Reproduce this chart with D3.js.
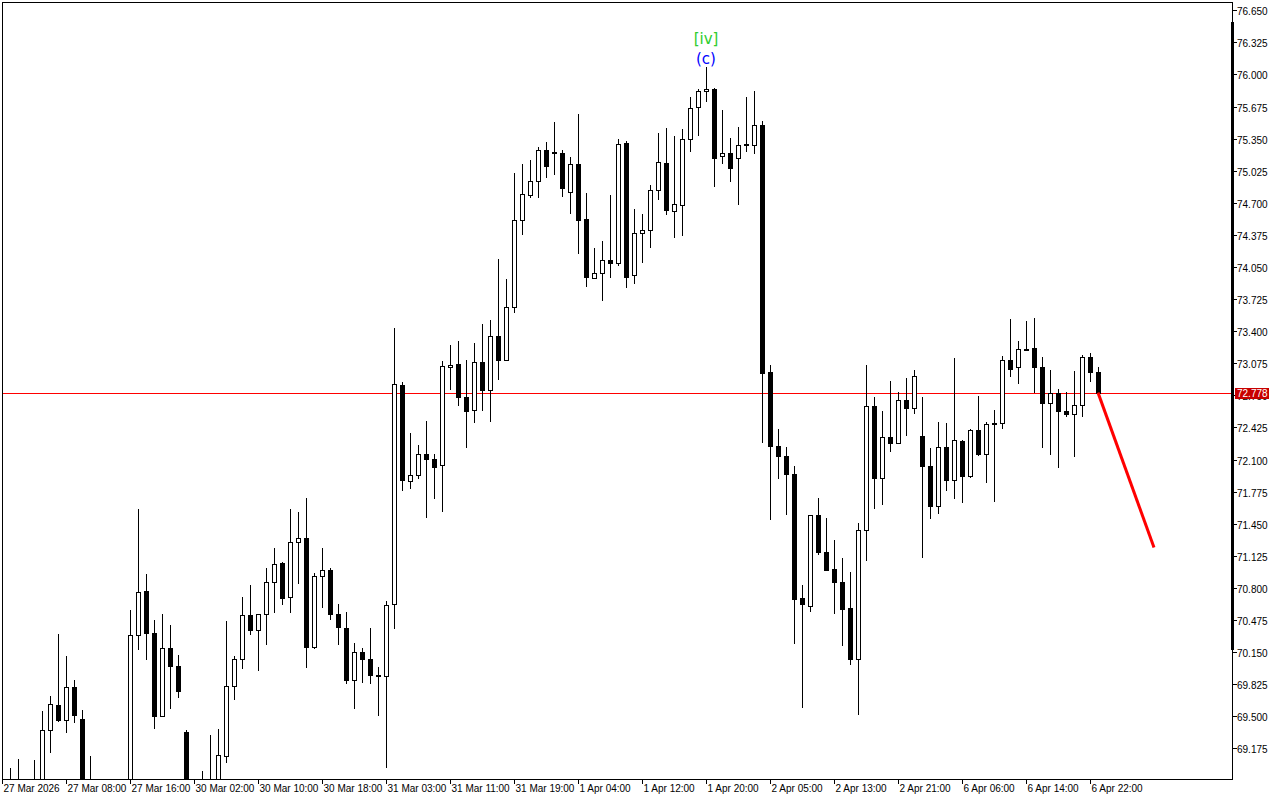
<!DOCTYPE html>
<html><head><meta charset="utf-8">
<script src="https://cdnjs.cloudflare.com/ajax/libs/d3/7.8.5/d3.min.js"></script>
<style>html,body{margin:0;padding:0;background:#fff;} svg{display:block;}</style>
</head><body><svg id="c" width="1280" height="800"></svg>
<script>
// Hourly candles, index 0 = 27 Mar 2026 00:00
const openP = [68.80,68.80,68.75,68.80,68.70,68.80,69.362,69.612,69.460,69.795,
69.474,68.75,68.80,68.60,68.55,68.75,68.70,70.321,70.770,70.341,
69.507,70.189,70.007,69.342,68.75,68.70,68.75,68.80,69.096,69.805,
70.078,70.524,70.372,70.534,70.858,71.050,70.706,71.263,71.303,70.206,
70.918,70.979,70.534,70.392,69.871,70.149,70.078,69.914,69.906,70.635,
72.852,71.880,71.941,72.154,72.103,72.042,73.034,73.065,72.731,72.599,
73.085,72.802,73.348,73.105,73.642,74.523,74.776,74.918,75.232,75.211,
75.201,74.806,75.090,74.536,73.936,73.986,74.118,74.094,75.302,73.966,
74.391,74.422,74.827,75.100,74.614,74.675,75.343,75.667,75.829,75.849,
75.171,75.201,75.151,75.292,75.282,75.485,72.984,72.235,72.133,71.951,
70.696,70.615,71.536,71.161,70.989,70.858,70.594,70.078,71.384,72.640,
71.911,72.326,72.265,72.700,72.619,72.336,72.032,71.627,72.224,71.890,
72.285,71.931,72.397,72.154,72.468,72.468,73.105,73.034,73.223,73.227,
73.034,72.670,72.771,72.589,72.559,72.656,73.136,72.984];
const highP = [68.85,68.980,69.068,68.84,69.058,69.554,69.706,70.334,70.111,69.868,
69.565,69.099,68.85,68.70,68.80,68.84,70.577,71.600,70.942,70.476,
70.537,70.425,70.122,69.362,68.84,68.947,69.312,69.372,70.466,70.111,
70.709,70.830,70.534,71.002,71.205,71.063,71.600,71.569,71.711,70.949,
71.205,71.002,70.638,70.554,70.246,70.189,70.392,69.997,70.665,73.429,
72.883,72.369,72.248,72.491,72.154,73.098,73.260,73.301,73.108,73.281,
73.473,73.513,74.131,73.929,75.002,75.093,75.133,75.265,75.316,75.518,
75.235,75.164,75.599,74.796,74.242,74.313,74.776,75.343,75.323,74.637,
74.587,74.877,75.407,75.454,75.376,75.444,75.771,75.852,76.075,75.859,
75.640,75.356,75.468,75.771,75.832,75.528,73.058,72.407,72.224,72.032,
70.827,71.536,71.708,71.506,71.283,71.101,70.959,71.455,73.056,72.734,
72.592,72.896,72.784,72.926,73.007,72.734,72.214,72.481,72.467,73.126,
72.295,72.407,72.741,72.478,72.599,73.146,73.524,73.298,73.503,73.534,
73.136,73.004,72.812,72.781,72.994,73.156,73.176,73.034];
const lowP = [68.60,68.65,68.70,68.60,68.62,68.75,69.142,69.453,69.345,69.446,
68.70,68.60,68.55,68.45,68.50,68.60,68.65,70.179,70.084,69.385,
69.500,69.588,69.699,68.60,68.55,68.60,68.70,68.75,69.041,69.679,
69.993,70.337,69.973,70.236,70.560,70.638,70.560,70.854,70.003,70.195,
70.611,70.489,70.236,69.841,69.588,69.851,69.841,69.517,68.991,70.398,
71.795,71.815,71.917,71.522,71.714,71.583,72.818,72.650,72.231,72.478,
72.599,72.488,72.913,73.105,73.591,74.389,74.756,74.762,74.964,74.995,
74.772,74.600,74.195,73.861,73.936,73.719,73.952,74.073,73.851,73.891,
74.104,74.256,74.734,74.590,74.357,74.377,75.222,75.390,75.734,74.873,
75.106,74.924,74.691,75.222,75.201,72.275,71.496,71.911,71.546,70.240,
69.598,70.564,71.141,70.979,70.544,70.220,70.033,69.521,71.080,71.613,
71.653,72.190,72.265,72.352,72.575,71.117,71.506,71.562,71.789,71.708,
71.674,71.921,72.144,71.876,71.684,72.417,72.949,72.879,73.214,72.781,
72.224,72.154,72.022,72.538,72.133,72.538,72.893,72.778];
const closeP = [68.70,68.75,68.85,68.70,68.80,69.362,69.625,69.463,69.795,69.517,
68.75,68.80,68.60,68.55,68.75,68.70,70.321,70.756,70.347,69.507,
70.189,70.013,69.760,68.75,68.70,68.75,68.80,69.106,69.805,70.078,
70.524,70.378,70.534,70.858,71.040,70.702,71.263,71.303,70.206,70.918,
70.979,70.540,70.402,69.871,70.149,70.084,69.922,69.904,70.625,72.862,
71.896,71.941,72.154,72.103,72.022,73.045,73.055,72.731,72.589,73.085,
72.802,73.348,73.105,73.642,74.523,74.786,74.919,75.232,75.070,75.201,
74.847,75.090,74.523,73.952,73.986,74.118,74.094,75.292,73.952,74.391,
74.422,74.827,75.110,74.630,74.685,75.343,75.657,75.829,75.849,75.157,
75.201,75.049,75.282,75.282,75.485,72.974,72.235,72.133,71.951,70.686,
70.635,71.536,71.161,70.985,70.858,70.584,70.078,71.384,72.638,71.911,
72.326,72.265,72.700,72.625,72.943,72.032,71.627,72.224,71.890,72.295,
71.931,72.397,72.154,72.457,72.460,73.105,73.020,73.217,73.214,73.034,
72.670,72.771,72.589,72.559,72.656,73.136,72.984,72.778];

const xTickIdx = [0,8,16,24,32,40,48,56,64,72,80,88,96,104,112,120,128,136];
const xTickLabels = ["27 Mar 2026","27 Mar 08:00","27 Mar 16:00","30 Mar 02:00","30 Mar 10:00","30 Mar 18:00",
"31 Mar 03:00","31 Mar 11:00","31 Mar 19:00","1 Apr 04:00","1 Apr 12:00","1 Apr 20:00",
"2 Apr 05:00","2 Apr 13:00","2 Apr 21:00","6 Apr 06:00","6 Apr 14:00","6 Apr 22:00"];
const yTickValues = [76.650,76.325,76.000,75.675,75.350,75.025,74.700,74.375,74.050,73.725,73.400,73.075,
72.750,72.425,72.100,71.775,71.450,71.125,70.800,70.475,70.150,69.825,69.500,69.175];
const currentPrice = 72.778;
const forecastIdx = [137, 144];
const forecastVal = [72.778, 71.21];
const waveIdx = 88;
const waveLabels = ["[iv]", "(c)"];
const waveColors = ["#2ecc2e", "#0000ff"];

const svg = d3.select("#c");
const PL = 3, PT = 3, PR = 1232, PB = 779;
const x = d3.scaleLinear().domain([0, 137]).range([2, 1098]);
const y = d3.scaleLinear().domain([68.866, 76.723]).range([PB, PT]);

svg.append("rect").attr("width",1280).attr("height",800).attr("fill","#fff");
svg.append("defs").append("clipPath").attr("id","plot")
  .append("rect").attr("x",PL).attr("y",PT).attr("width",PR-PL).attr("height",PB-PT);

const plot = svg.append("g").attr("clip-path","url(#plot)");

// current price line
const yc = Math.round(y(currentPrice)) + 0.5;
plot.append("rect").attr("x",PL).attr("width",PR-PL).attr("y",yc-0.5).attr("height",1)
  .attr("fill","#ff0000");

const candles = d3.range(openP.length).map(i => ({i, o:openP[i], h:highP[i], l:lowP[i], c:closeP[i]}));
const g = plot.selectAll("g.cdl").data(candles).join("g").attr("class","cdl");
g.append("line")
  .attr("x1", d => Math.round(x(d.i)) + 0.5).attr("x2", d => Math.round(x(d.i)) + 0.5)
  .attr("y1", d => Math.round(y(d.h))).attr("y2", d => Math.round(y(d.l)) + 1)
  .attr("stroke","#000").attr("stroke-width",1).attr("shape-rendering","crispEdges");
g.append("rect")
  .attr("x", d => Math.round(x(d.i)) - 1.5)
  .attr("width", 4)
  .attr("y", d => Math.round(y(Math.max(d.o,d.c))) + 0.5)
  .attr("height", d => Math.max(0, Math.round(y(Math.min(d.o,d.c))) - Math.round(y(Math.max(d.o,d.c)))))
  .attr("fill", d => d.c < d.o ? "#000" : "#fff")
  .attr("stroke","#000").attr("stroke-width",1).attr("shape-rendering","crispEdges");

// forecast line
plot.append("path")
  .datum(forecastIdx.map((v,k)=>[v, forecastVal[k]]))
  .attr("d", d3.line().x(d=>x(d[0])).y(d=>y(d[1])))
  .attr("fill","none").attr("stroke","#ff0000").attr("stroke-width",3);

// wave labels
waveLabels.forEach((t,k)=>{
  svg.append("text").attr("x", x(waveIdx)).attr("y", [39, 59][k])
    .attr("text-anchor","middle").attr("dominant-baseline","middle")
    .attr("font-family","DejaVu Sans, sans-serif").attr("font-size",15)
    .attr("fill", waveColors[k]).text(t);
});

// frame
svg.append("rect").attr("x",PL-0.5).attr("y",PT-0.5).attr("width",PR-PL+1).attr("height",PB-PT+1)
  .attr("fill","none").attr("stroke","#000").attr("stroke-width",1).attr("shape-rendering","crispEdges");
svg.append("rect").attr("x",1231).attr("y",22).attr("width",3).attr("height",628).attr("fill","#000");

// right axis
const ya = svg.append("g");
yTickValues.forEach(v=>{
  const yy = Math.round(y(v)) + 0.5;
  ya.append("line").attr("x1",PR+1).attr("x2",PR+5).attr("y1",yy).attr("y2",yy)
    .attr("stroke","#000").attr("shape-rendering","crispEdges");
  ya.append("text").attr("x",PR+5).attr("y",yy+4)
    .attr("font-family","Liberation Sans, Arial, sans-serif").attr("font-size",10)
    .attr("fill","#000").text(v.toFixed(3));
});

// current price label
ya.append("rect").attr("x",1235).attr("y",yc-5.5).attr("width",34).attr("height",11).attr("fill","#c80000");
ya.append("text").attr("x",1237).attr("y",yc+3.5)
  .attr("font-family","Liberation Sans, Arial, sans-serif").attr("font-size",10)
  .attr("fill","#fff").text(currentPrice.toFixed(3));

// bottom axis
const xa = svg.append("g");
xTickIdx.forEach((idx,k)=>{
  const xx = Math.round(x(idx)) + 0.5;
  xa.append("line").attr("x1",xx).attr("x2",xx).attr("y1",PB).attr("y2",PB+5)
    .attr("stroke","#000").attr("shape-rendering","crispEdges");
  xa.append("text").attr("x",xx+1).attr("y",792)
    .attr("font-family","Liberation Sans, Arial, sans-serif").attr("font-size",10)
    .attr("fill","#000").text(xTickLabels[k]);
});
</script>
</body></html>
